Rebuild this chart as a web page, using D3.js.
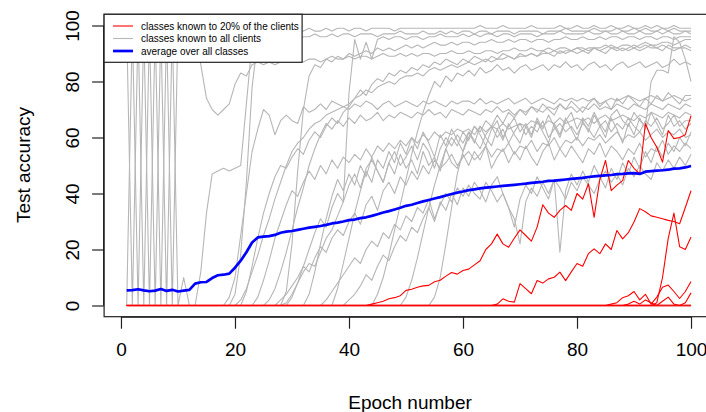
<!DOCTYPE html>
<html>
<head>
<meta charset="utf-8">
<script src="https://cdn.jsdelivr.net/npm/d3@7/dist/d3.min.js"></script>
<style>
  html, body { margin: 0; padding: 0; background: #fff; }
  svg { display: block; }
  text { font-family: "Liberation Sans", Arial, Helvetica, sans-serif; fill: #000; }
</style>
</head>
<body>
<svg id="chart" width="706" height="412"></svg>
<script>
// ---------------- DATA ----------------
const epochs = d3.range(1, 101);
const xTicks = [0, 20, 40, 60, 80, 100];
const yTicks = [0, 20, 40, 60, 80, 100];
const legendLabels = ["classes known to 20% of the clients", "classes known to all clients", "average over all classes"];

// classes known to all clients (gray)
const grayA = [
0,100,0,100,0,100,0,100,0,100,
100,100,97,86,74,70,68,70,72,79,
83,82,86,87,86,87,86,87,88,87,
88,87,88,88,87,88,89,88,88,89,
88,89,89,88,89,90,89,89,90,89,
90,89,90,90,89,90,90,91,90,90,
91,90,90,91,91,90,91,91,92,91,
91,92,91,91,92,91,92,92,91,92,
92,91,92,92,93,92,92,91,92,93,
92,93,92,92,93,92,91,92,92,91];
const grayB = [
100,0,100,0,100,0,100,0,100,0,
10,0,0,0,0,0,0,0,0,0,
0,0,0,0,0,0,0,0,1,4,
8,12,15,14,19,24,27,32,37,76,
95,88,94,88,95,96,95,96,96,95,
96,96,95,96,96,97,96,96,96,97,
96,97,96,97,97,96,97,97,96,97,
97,97,96,97,97,97,98,97,97,97,
97,98,97,97,98,97,97,98,97,97,
98,97,97,98,97,98,97,97,98,97];
const grayC = [
0,0,0,0,0,0,0,0,0,0,
0,0,0,12,33,47,48,49,48,49,
50,72,94,97,96,97,98,97,98,98,
98,98,99,98,98,99,98,99,99,98,
99,99,98,99,99,99,99,98,99,99,
99,99,99,99,99,99,99,99,99,99,
99,99,100,99,99,99,100,99,99,99,
99,100,99,99,99,99,100,99,99,100,
99,99,100,99,99,100,99,99,100,99,
99,100,99,100,99,99,100,99,99,99];
const grayD = [
0,0,0,0,0,0,0,0,0,0,
0,0,0,0,0,0,0,0,0,4,
18,44,78,95,94,95,96,95,96,96,
95,96,96,97,96,96,97,96,97,97,
96,97,97,97,96,97,97,97,98,97,
97,97,98,97,97,98,97,98,97,98,
98,97,98,98,97,98,98,98,97,98,
98,98,98,97,98,98,98,99,98,98,
98,98,99,98,98,98,99,98,98,99,
98,99,98,98,99,98,99,98,98,98];
const grayE = [
0,0,0,0,0,0,0,0,0,0,
0,0,0,0,0,0,0,0,3,10,
25,40,55,63,70,68,61,66,68,66,
65,71,69,70,72,70,73,72,71,70,
72,71,73,72,70,72,73,71,72,73,
72,71,73,72,73,72,71,73,72,73,
73,72,74,72,73,72,73,74,72,73,
74,72,73,74,73,72,74,73,74,73,
74,73,74,72,73,74,73,74,75,74,
73,74,75,74,73,74,75,74,73,74];
const grayF = [
0,0,0,0,0,0,0,0,0,0,
0,0,0,0,0,0,0,0,0,0,
2,6,12,18,25,31,38,44,50,55,
58,60,63,65,66,68,69,70,71,72,
74,75,77,76,78,79,80,79,81,82,
82,83,82,84,85,84,85,86,85,86,
87,86,87,88,87,88,88,89,88,89,
89,90,89,90,90,91,90,91,91,92,
91,92,92,91,92,93,92,93,93,92,
93,94,93,93,94,94,93,94,95,95];
const grayG = [
0,0,0,0,0,0,0,0,0,0,
0,0,0,0,0,0,0,0,0,0,
0,0,0,0,0,0,0,0,5,22,
48,70,82,86,85,88,87,89,88,90,
89,90,91,90,92,91,92,91,92,93,
92,93,92,93,94,93,93,94,93,94,
94,93,94,94,95,94,94,95,94,95,
95,94,95,95,94,95,95,96,95,95,
96,95,95,96,95,96,96,95,96,96,
95,96,96,95,96,96,95,96,96,96];
const grayH = [
0,0,0,0,0,0,0,0,0,0,
0,0,0,0,0,0,0,0,0,0,
0,0,0,3,9,16,24,30,36,41,
39,44,48,45,50,47,52,49,53,51,
54,52,56,53,57,55,58,56,59,57,
60,58,61,59,62,60,62,61,63,62,
63,61,64,62,64,63,65,63,64,65,
64,66,65,64,66,65,67,65,66,67,
66,67,65,67,68,66,67,68,67,66,
68,67,69,68,67,69,68,67,69,68];
const grayI = [
0,0,0,0,0,0,0,0,0,0,
0,0,0,0,0,0,0,0,0,0,
0,0,0,0,0,2,6,12,19,27,
35,42,50,56,61,65,63,66,64,67,
65,68,66,67,69,66,68,67,69,68,
67,69,68,70,68,69,67,70,69,68,
70,69,68,70,69,71,69,70,68,70,
69,71,70,69,71,70,72,70,71,69,
71,70,72,70,71,70,72,71,70,72,
71,70,72,71,70,72,71,70,72,71];
const grayJ = [
0,0,0,0,0,0,0,0,0,0,
0,0,0,0,0,0,0,0,0,0,
0,0,0,0,0,0,0,2,4,7,
10,14,12,17,21,19,24,27,25,30,
33,29,36,39,34,41,44,40,46,43,
48,45,50,47,52,49,51,54,50,53,
55,52,54,57,53,56,55,58,54,57,
56,59,55,58,57,60,56,59,58,60,
57,60,59,61,58,60,62,59,61,60,
62,59,61,63,60,62,61,63,60,61];
const grayK = [
0,0,0,0,0,0,0,0,0,0,
0,0,0,0,0,0,0,0,0,0,
0,0,0,0,0,0,0,0,0,3,
8,14,20,26,31,28,35,40,37,43,
47,42,49,52,48,44,51,55,50,53,
57,52,58,55,49,56,60,57,61,58,
62,59,56,61,64,60,63,58,62,65,
61,64,62,66,60,63,65,62,64,61,
65,63,60,64,66,62,65,63,67,64,
62,66,64,67,63,65,68,64,66,66];
const grayL = [
0,0,0,0,0,0,0,0,0,0,
0,0,0,0,0,0,0,0,0,0,
0,0,0,0,0,0,0,0,0,0,
0,0,4,12,22,31,39,45,41,47,
43,50,46,53,48,44,51,47,54,49,
52,47,55,50,53,48,56,51,49,54,
50,55,52,57,49,53,56,51,55,52,
57,53,50,55,58,52,56,53,57,54,
51,56,54,58,53,57,55,52,56,54,
58,53,56,55,59,54,57,55,58,56];
const grayM = [
0,0,0,0,0,0,0,0,0,0,
0,0,0,0,0,0,0,0,0,0,
0,0,0,0,0,0,0,0,0,0,
0,0,0,0,0,2,5,8,11,14,
17,15,20,23,21,26,24,29,27,32,
30,35,33,38,31,36,40,37,42,39,
43,40,38,44,41,37,40,35,31,22,
37,42,39,44,40,45,42,38,44,41,
46,43,40,45,48,44,47,43,49,46,
50,47,45,51,48,52,49,53,50,54];
const grayN = [
0,0,0,0,0,0,0,0,0,0,
0,0,0,0,0,0,0,0,0,0,
0,0,0,0,0,0,0,0,0,0,
0,0,0,0,0,0,0,0,0,0,
0,0,0,0,4,10,18,27,36,45,
54,62,69,75,80,78,82,80,83,82,
84,82,85,83,84,86,84,85,83,85,
86,84,85,86,84,86,85,87,85,86,
84,86,87,85,86,84,86,87,85,86,
87,85,86,87,85,86,88,86,87,86];
const grayO = [
0,0,0,0,0,0,0,0,0,0,
0,0,0,0,0,0,0,0,0,0,
0,0,0,0,0,0,0,0,0,0,
0,0,0,0,0,0,0,0,0,0,
0,0,0,0,0,0,0,0,0,3,
9,17,26,35,43,50,56,60,57,62,
59,64,61,57,63,66,60,64,67,62,
65,61,67,63,68,64,60,66,69,63,
67,64,69,65,62,68,70,66,64,69,
66,64,80,84,84,83,96,94,88,80];
const grayP = [
0,0,0,0,0,0,0,0,0,0,
0,0,0,0,0,0,0,0,0,0,
0,0,0,0,0,0,0,0,0,0,
0,0,0,0,0,0,0,0,0,2,
4,7,11,9,14,18,16,21,25,23,
28,26,31,35,30,37,34,40,36,42,
39,44,41,37,43,46,40,35,28,38,
43,40,46,42,38,45,19,41,47,43,
48,44,50,46,42,49,45,51,47,53,
49,55,51,57,53,58,55,60,57,62];
const grayQ = [
0,0,0,0,0,0,0,0,0,0,
0,0,0,0,0,0,0,0,0,0,
0,0,0,0,0,0,0,0,0,0,
0,0,0,0,0,0,0,0,0,0,
0,0,0,0,0,0,0,0,0,0,
0,0,0,0,3,10,22,35,47,55,
60,64,62,66,64,68,65,69,67,70,
68,71,69,72,70,68,72,70,73,71,
69,72,74,71,73,70,74,72,75,73,
71,74,72,75,73,76,74,72,75,75];
const grayR = [
0,0,0,0,0,0,0,0,0,0,
0,0,0,0,0,0,0,0,0,0,
0,0,0,0,0,0,0,0,0,0,
0,0,0,0,0,0,0,6,15,24,
33,41,48,44,52,49,55,51,58,54,
60,56,62,58,53,61,57,63,59,55,
62,58,64,60,57,63,59,65,61,58,
64,60,66,62,58,65,61,67,63,59,
66,62,68,64,60,67,63,58,65,61,
67,63,69,65,61,68,64,66,63,65];
const grayS = [
0,0,0,0,0,0,0,0,0,0,
0,0,0,0,0,0,0,0,0,0,
0,5,14,24,33,40,46,50,49,53,
56,54,59,62,60,64,67,65,69,71,
74,77,75,79,81,80,83,82,84,83,
85,84,86,85,87,86,88,87,86,88,
87,89,88,87,89,88,90,89,88,90,
89,90,89,91,90,89,91,90,91,90,
91,90,92,91,90,92,91,92,91,92,
91,92,93,92,91,93,92,92,93,92];

// classes known to 20% of the clients (red)
const redA = [
0,0,0,0,0,0,0,0,0,0,
0,0,0,0,0,0,0,0,0,0,
0,0,0,0,0,0,0,0,0,0,
0,0,0,0,0,0,0,0,0,0,
0,0,0,0.5,1,1.5,2.4,2.8,3.5,5.4,
5.8,6.5,7,7.2,8.5,9,10.5,11.8,11.2,12.5,
13,14.5,16,20,22,25.5,22,20.8,24,27,
25,23,28,36,33,31.5,34,35.7,34,40,
38,43.5,31.5,45,51.8,41,43,44.6,51.8,49,
47,65,60,56.5,51.2,62.5,59.6,60,61,67.8];
const redB = [
0,0,0,0,0,0,0,0,0,0,
0,0,0,0,0,0,0,0,0,0,
0,0,0,0,0,0,0,0,0,0,
0,0,0,0,0,0,0,0,0,0,
0,0,0,0,0,0,0,0,0,0,
0,0,0,0,0,0,0,0,0,0,
0,0,0,0,0,0.5,2.4,1.5,1.2,7.8,
6,4.2,8.9,8,9.5,10.1,11.9,8.9,12,15,
14,18.5,20.2,18.5,22,20,26.8,23.8,26,29.8,
34.6,33.5,32,31.5,31,30.4,30,29.2,35,41];
const redC = [
0,0,0,0,0,0,0,0,0,0,
0,0,0,0,0,0,0,0,0,0,
0,0,0,0,0,0,0,0,0,0,
0,0,0,0,0,0,0,0,0,0,
0,0,0,0,0,0,0,0,0,0,
0,0,0,0,0,0,0,0,0,0,
0,0,0,0,0,0,0,0,0,0,
0,0,0,0,0,0,0,0,0,0,
0,0,0,0,0,0,0,0,0,0,
0,0,0,1,10,24,33,21,20,24.5];
const redD = [
0,0,0,0,0,0,0,0,0,0,
0,0,0,0,0,0,0,0,0,0,
0,0,0,0,0,0,0,0,0,0,
0,0,0,0,0,0,0,0,0,0,
0,0,0,0,0,0,0,0,0,0,
0,0,0,0,0,0,0,0,0,0,
0,0,0,0,0,0,0,0,0,0,
0,0,0,0,0,0,0,0,0,0,
0,0,0,0,0,0.5,1,2.8,3.5,5,
2,4,0.5,3,6.5,7.3,5,2.5,5,8.6];
const redE = [
0,0,0,0,0,0,0,0,0,0,
0,0,0,0,0,0,0,0,0,0,
0,0,0,0,0,0,0,0,0,0,
0,0,0,0,0,0,0,0,0,0,
0,0,0,0,0,0,0,0,0,0,
0,0,0,0,0,0,0,0,0,0,
0,0,0,0,0,0,0,0,0,0,
0,0,0,0,0,0,0,0,0,0,
0,0,0,0,0,0,0,0,0.5,1.5,
0.5,2,1,0,1.5,3,0.5,0,1,4.5];
const redF = [
0,0,0,0,0,0,0,0,0,0,
0,0,0,0,0,0,0,0,0,0,
0,0,0,0,0,0,0,0,0,0,
0,0,0,0,0,0,0,0,0,0,
0,0,0,0,0,0,0,0,0,0,
0,0,0,0,0,0,0,0,0,0,
0,0,0,0,0,0,0,0,0,0,
0,0,0,0,0,0,0,0,0,0,
0,0,0,0,0,0,0,0,0,0,
0,0,0,0,0,0,0,0,0,0];

// average over all classes (blue)
const average = [
5.4,5.5,5.8,5.4,5.1,5.3,5.9,5.2,5.6,5.0,
5.3,5.6,7.8,8.3,8.4,9.8,10.8,11.0,11.4,13.5,
16,19,22.5,24.3,24.6,24.8,25.2,26.0,26.4,26.6,
27.0,27.4,27.8,28.1,28.4,28.8,29.3,29.6,30.0,30.5,
30.7,31.2,31.5,32.0,32.6,33.2,33.7,34.3,34.9,35.6,
36.0,36.6,37.2,37.7,38.2,38.7,39.3,39.8,40.3,40.7,
41.2,41.5,41.8,42.1,42.3,42.5,42.7,42.9,43.1,43.3,
43.5,43.8,44.0,44.2,44.5,44.6,44.8,45.0,45.2,45.4,
45.6,45.9,46.1,46.3,46.5,46.6,46.9,47.0,47.2,47.3,
47.0,47.8,48.0,48.2,48.3,48.5,48.9,49.0,49.3,49.8];

const graySeries = [grayA, grayB, grayC, grayD, grayE, grayF, grayG, grayH, grayI, grayJ,
                    grayK, grayL, grayM, grayN, grayO, grayP, grayQ, grayR, grayS];
const redSeries = [redE, redD, redC, redB, redA];
const redFlat = [redF, redF];

// ---------------- DRAW ----------------
const svg = d3.select("#chart");
const box = { left: 104.1, right: 713.6, top: 14.3, bottom: 316.7 };

const x = d3.scaleLinear().domain([-2.96, 103.96]).range([box.left, box.right]);
const y = d3.scaleLinear().domain([-4, 104]).range([box.bottom, box.top]);

svg.append("defs").append("clipPath").attr("id", "plotclip")
  .append("rect").attr("x", box.left).attr("y", box.top)
  .attr("width", box.right - box.left).attr("height", box.bottom - box.top);

const line = d3.line().x((d, i) => x(epochs[i])).y(d => y(d));
const plot = svg.append("g").attr("clip-path", "url(#plotclip)");

graySeries.forEach(s => {
  plot.append("path").datum(s).attr("d", line)
    .attr("fill", "none").attr("stroke", "#b6b6b6").attr("stroke-width", 1.1)
    .attr("stroke-linejoin", "round");
});
redFlat.forEach(s => {
  plot.append("path").datum(s).attr("d", line)
    .attr("fill", "none").attr("stroke", "#f01a1a").attr("stroke-width", 1.7);
});
redSeries.forEach(s => {
  plot.append("path").datum(s).attr("d", line)
    .attr("fill", "none").attr("stroke", "#ff0000").attr("stroke-width", 1.1)
    .attr("stroke-linejoin", "round");
});
plot.append("path").datum(average).attr("d", line)
  .attr("fill", "none").attr("stroke", "#0000ff").attr("stroke-width", 2.7)
  .attr("stroke-linejoin", "round");

// axes (R style)
const xAxis = d3.axisBottom(x).tickValues(xTicks).tickSize(12).tickPadding(14).tickFormat(d3.format("d"));
const gx = svg.append("g").attr("transform", `translate(0,${box.bottom})`).call(xAxis);
gx.select(".domain").attr("d", `M${x(0)},0.5H${x(100)}`).attr("stroke", "#222").attr("stroke-width", 1.2);
gx.selectAll(".tick line").attr("stroke", "#222").attr("stroke-width", 1.2);
gx.selectAll(".tick text").attr("font-size", 19).attr("fill", "#111")
  .style("font-family", '"Liberation Sans", Arial, sans-serif');

const yAxis = d3.axisLeft(y).tickValues(yTicks).tickSize(12).tickPadding(0).tickFormat(d3.format("d"));
const gy = svg.append("g").attr("transform", `translate(${box.left},0)`).call(yAxis);
gy.select(".domain").attr("d", `M-0.5,${y(0)}V${y(100)}`).attr("stroke", "#222").attr("stroke-width", 1.2);
gy.selectAll(".tick line").attr("stroke", "#222").attr("stroke-width", 1.2);
gy.selectAll(".tick text")
  .attr("x", null).attr("dy", null)
  .attr("text-anchor", "middle")
  .attr("transform", "translate(-32,0) rotate(-90)")
  .attr("dy", "0.35em")
  .attr("font-size", 19).attr("fill", "#111")
  .style("font-family", '"Liberation Sans", Arial, sans-serif');

// box
svg.append("rect").attr("x", box.left).attr("y", box.top)
  .attr("width", box.right - box.left).attr("height", box.bottom - box.top)
  .attr("fill", "none").attr("stroke", "#222").attr("stroke-width", 1.2);

// axis titles
svg.append("text").attr("x", 410).attr("y", 409).attr("text-anchor", "middle")
  .attr("font-size", 19).text("Epoch number");
svg.append("text").attr("transform", "translate(30,165) rotate(-90)")
  .attr("text-anchor", "middle").attr("font-size", 19).text("Test accuracy");

// legend
const lg = svg.append("g");
lg.append("rect").attr("x", box.left).attr("y", box.top).attr("width", 198).attr("height", 48)
  .attr("fill", "#fff").attr("stroke", "#222").attr("stroke-width", 1.2);
const legendColors = ["#ff0000", "#b6b6b6", "#0000ff"];
const legendWidths = [1.1, 1.1, 2.7];
legendLabels.forEach((t, i) => {
  const yy = 26 + i * 12.5;
  lg.append("line").attr("x1", 113).attr("x2", 133).attr("y1", yy).attr("y2", yy)
    .attr("stroke", legendColors[i]).attr("stroke-width", legendWidths[i]);
  lg.append("text").attr("x", 141).attr("y", yy).attr("dy", "0.35em")
    .attr("font-size", 10).attr("fill", "#111").text(t);
});

[...graySeries, ...redSeries, average].forEach((s, i) => { if (s.length !== 100) console.error("series", i, "length", s.length); });
</script>
</body>
</html>
